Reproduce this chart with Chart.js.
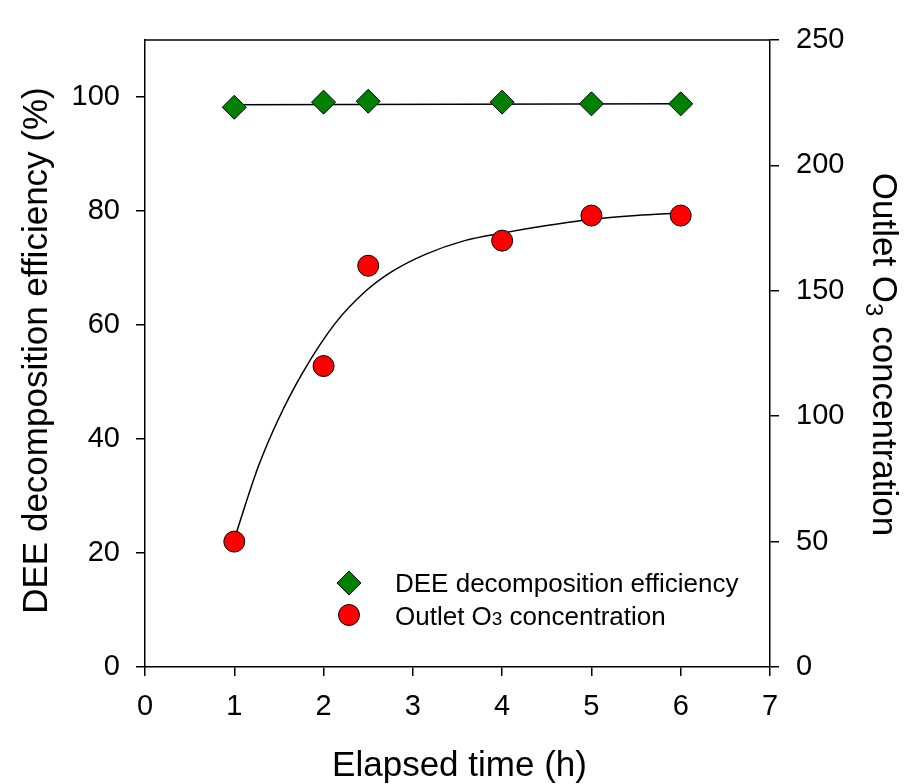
<!DOCTYPE html>
<html>
<head>
<meta charset="utf-8">
<script src="https://cdn.jsdelivr.net/npm/chart.js@4/dist/chart.umd.min.js"></script>
<style>
  html, body { margin: 0; padding: 0; background: #fff; }
  #wrap { width: 910px; height: 784px; }
</style>
</head>
<body>
<div id="wrap"><canvas id="decompChart" width="910" height="784"></canvas></div>
<script>
// measured points
const hours = [1, 2, 2.5, 4, 5, 6];
const deeEfficiency = [98.2, 99.1, 99.25, 99.1, 98.8, 98.8];
const outletO3 = [50, 120, 160, 170, 180, 180];

// fitted curves
const deeFitHours = [1, 6];
const deeFit = [98.65, 98.8];
const o3FitHours = [1, 1.27, 1.49, 1.76, 2.13, 2.46, 2.76, 3.14, 3.58, 4, 4.5, 5, 5.5, 6];
const o3Fit = [51, 80, 98.5, 117, 137, 149.5, 157.5, 164.5, 170, 173, 176, 178.5, 180, 181];

// axis ticks
const xTicks = [0, 1, 2, 3, 4, 5, 6, 7];
const effTicks = [0, 20, 40, 60, 80, 100];
const o3Ticks = [0, 50, 100, 150, 200, 250];

const FONT = "'Liberation Sans', Arial, Helvetica, sans-serif";

function toPoints(xs, ys) {
  return xs.map((x, i) => ({ x: x, y: ys[i] }));
}

// titles with subscripts, legend and top frame line
const decorPlugin = {
  id: 'decor',
  afterDraw(chart) {
    const ctx = chart.ctx;
    const a = chart.chartArea;
    ctx.save();

    // top edge of the frame
    ctx.strokeStyle = '#000';
    ctx.lineWidth = 1.5;
    ctx.beginPath();
    ctx.moveTo(a.left, a.top);
    ctx.lineTo(a.right, a.top);
    ctx.stroke();

    ctx.fillStyle = '#000';
    ctx.textBaseline = 'alphabetic';

    // x title
    ctx.font = '35px ' + FONT;
    ctx.textAlign = 'center';
    ctx.fillText('Elapsed time (h)', (a.left + a.right) / 2 + 2, 776);

    // left title
    ctx.save();
    ctx.translate(47, (a.top + a.bottom) / 2 - 3);
    ctx.rotate(-Math.PI / 2);
    ctx.fillText('DEE decomposition efficiency (%)', 0, 0);
    ctx.restore();

    // right title with subscript
    ctx.save();
    ctx.translate(873, (a.top + a.bottom) / 2 + 1);
    ctx.rotate(Math.PI / 2);
    ctx.textAlign = 'left';
    const big = '35px ' + FONT, small = '24px ' + FONT;
    ctx.font = big;
    const p1 = 'Outlet O', p3 = ' concentration';
    const w1 = ctx.measureText(p1).width;
    const w3 = ctx.measureText(p3).width;
    ctx.font = small;
    const w2 = ctx.measureText('3').width;
    let x = -(w1 + w2 + w3) / 2;
    ctx.font = big;
    ctx.fillText(p1, x, 0);
    x += w1;
    ctx.font = small;
    ctx.fillText('3', x, 7);
    x += w2;
    ctx.font = big;
    ctx.fillText(p3, x, 0);
    ctx.restore();

    // legend
    const lx = a.left + 204;
    const ly1 = a.bottom - 84, ly2 = a.bottom - 52;
    ctx.lineWidth = 1;
    ctx.strokeStyle = '#000';
    ctx.fillStyle = '#008000';
    ctx.beginPath();
    ctx.moveTo(lx - 12, ly1);
    ctx.lineTo(lx, ly1 - 12);
    ctx.lineTo(lx + 12, ly1);
    ctx.lineTo(lx, ly1 + 12);
    ctx.closePath();
    ctx.fill();
    ctx.stroke();
    ctx.fillStyle = '#ff0000';
    ctx.beginPath();
    ctx.arc(lx, ly2, 10.5, 0, Math.PI * 2);
    ctx.fill();
    ctx.stroke();

    ctx.fillStyle = '#000';
    ctx.textAlign = 'left';
    const tx = lx + 46;
    ctx.font = '26px ' + FONT;
    ctx.fillText('DEE decomposition efficiency', tx, ly1 + 9);
    let t = 'Outlet O';
    ctx.fillText(t, tx, ly2 + 10);
    let wx = tx + ctx.measureText(t).width;
    ctx.font = '19px ' + FONT;
    ctx.fillText('3', wx, ly2 + 10);
    wx += ctx.measureText('3').width;
    ctx.font = '26px ' + FONT;
    ctx.fillText(' concentration', wx, ly2 + 10);

    ctx.restore();
  }
};

function tickOpts(list, pad) {
  return {
    color: '#000',
    font: { family: FONT, size: 29 },
    padding: pad,
    includeBounds: false,
    stepSize: list[1] - list[0],
    maxRotation: 0
  };
}

const gridOpts = { drawOnChartArea: false, tickLength: 9, color: '#000', lineWidth: 1.5 };
const borderOpts = { color: '#000', width: 1.5 };

new Chart(document.getElementById('decompChart').getContext('2d'), {
  type: 'scatter',
  data: {
    datasets: [
      {
        label: 'DEE decomposition efficiency',
        data: toPoints(hours, deeEfficiency),
        yAxisID: 'y',
        pointStyle: 'rectRot',
        pointRadius: 12,
        backgroundColor: '#008000',
        borderColor: '#000',
        borderWidth: 1,
        order: 0
      },
      {
        label: 'Outlet O3 concentration',
        data: toPoints(hours, outletO3),
        yAxisID: 'y2',
        pointStyle: 'circle',
        pointRadius: 10.5,
        backgroundColor: '#ff0000',
        borderColor: '#000',
        borderWidth: 1,
        order: 0
      },
      {
        label: 'DEE fit',
        data: toPoints(deeFitHours, deeFit),
        yAxisID: 'y',
        showLine: true,
        pointRadius: 0,
        borderColor: '#000',
        borderWidth: 1.5,
        order: 1
      },
      {
        label: 'O3 fit',
        data: toPoints(o3FitHours, o3Fit),
        yAxisID: 'y2',
        showLine: true,
        cubicInterpolationMode: 'monotone',
        pointRadius: 0,
        borderColor: '#000',
        borderWidth: 1.5,
        order: 1
      }
    ]
  },
  options: {
    responsive: false,
    animation: false,
    layout: { padding: { top: 40, left: 0, right: 0, bottom: 0 } },
    plugins: {
      legend: { display: false },
      tooltip: { enabled: false }
    },
    scales: {
      x: {
        type: 'linear',
        position: 'bottom',
        min: xTicks[0],
        max: xTicks[xTicks.length - 1],
        ticks: tickOpts(xTicks, 14),
        grid: gridOpts,
        border: borderOpts,
        afterFit: s => { s.height = 117; }
      },
      y: {
        type: 'linear',
        position: 'left',
        min: 0,
        max: 110,
        ticks: tickOpts(effTicks, 16),
        grid: gridOpts,
        border: borderOpts,
        afterFit: s => { s.width = 145; }
      },
      y2: {
        type: 'linear',
        position: 'right',
        min: o3Ticks[0],
        max: o3Ticks[o3Ticks.length - 1],
        ticks: tickOpts(o3Ticks, 17),
        grid: gridOpts,
        border: borderOpts,
        afterFit: s => { s.width = 140; }
      }
    }
  },
  plugins: [decorPlugin]
});
</script>
</body>
</html>
